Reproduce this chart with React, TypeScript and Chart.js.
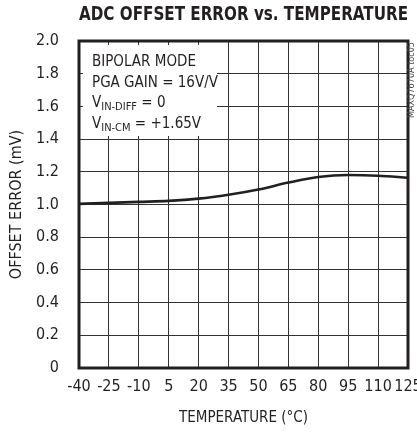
import React, { useEffect, useRef } from "react";
import { Chart, registerables } from "chart.js";

Chart.register(...registerables);

const temperatures = [-40, -25, -10, 5, 20, 35, 50, 65, 80, 95, 110, 125];
const offsetError = [1.004, 1.01, 1.016, 1.022, 1.036, 1.06, 1.092, 1.134, 1.168, 1.18, 1.176, 1.164];

const chartTitle = "ADC OFFSET ERROR vs. TEMPERATURE";
const xTitle = "TEMPERATURE (°C)";
const yTitle = "OFFSET ERROR (mV)";
const noteLines = [
  { main: "BIPOLAR MODE", sub: "", rest: "" },
  { main: "PGA GAIN = 16V/V", sub: "", rest: "" },
  { main: "V", sub: "IN-DIFF", rest: " = 0" },
  { main: "V", sub: "IN-CM", rest: " = +1.65V" },
];
const figureCode = "MAXQ7670A toc05";

const FONT = "'Liberation Sans Narrow', 'Arial Narrow', 'DejaVu Sans Condensed', sans-serif";
const INK = "#231f20";

const decorPlugin = {
  id: "decor",
  beforeDatasetsDraw(chart: any) {
    const { ctx } = chart;
    ctx.save();
    ctx.fillStyle = "#ffffff";
    ctx.fillRect(83, 45, 134, 91);
    ctx.fillStyle = INK;
    ctx.textBaseline = "alphabetic";
    ctx.textAlign = "left";
    const baselines = [66, 86.5, 107, 127.5];
    noteLines.forEach((ln, i) => {
      let x = 92;
      const y = baselines[i];
      ctx.font = `15px ${FONT}`;
      ctx.fillText(ln.main, x, y);
      x += ctx.measureText(ln.main).width;
      if (ln.sub) {
        ctx.font = `11px ${FONT}`;
        ctx.fillText(ln.sub, x, y + 3);
        x += ctx.measureText(ln.sub).width;
      }
      if (ln.rest) {
        ctx.font = `15px ${FONT}`;
        ctx.fillText(ln.rest, x, y);
      }
    });
    ctx.restore();
  },
  afterDatasetsDraw(chart: any) {
    const { ctx, chartArea } = chart;
    ctx.save();
    ctx.strokeStyle = INK;
    ctx.lineWidth = 3;
    ctx.strokeRect(chartArea.left, chartArea.top, chartArea.right - chartArea.left, chartArea.bottom - chartArea.top);
    ctx.restore();
  },
  afterDraw(chart: any) {
    const { ctx } = chart;
    ctx.save();
    ctx.translate(412, 80);
    ctx.rotate(-Math.PI / 2);
    ctx.font = `9px ${FONT}`;
    ctx.fillStyle = "#444";
    ctx.textAlign = "center";
    ctx.textBaseline = "middle";
    ctx.fillText(figureCode, 0, 0);
    ctx.restore();
  },
};

export default function App() {
  const ref = useRef<HTMLCanvasElement | null>(null);
  useEffect(() => {
    if (!ref.current) return;
    const chart = new Chart(ref.current, {
      type: "line",
      data: {
        datasets: [
          {
            data: temperatures.map((t, i) => ({ x: t, y: offsetError[i] })),
            borderColor: INK,
            borderWidth: 2.6,
            pointRadius: 0,
            cubicInterpolationMode: "monotone",
            fill: false,
          },
        ],
      },
      options: {
        animation: false,
        responsive: false,
        maintainAspectRatio: false,
        layout: { padding: { top: 0, right: 32, bottom: 0, left: 0 } },
        plugins: {
          legend: { display: false },
          tooltip: { enabled: false },
          title: {
            display: true,
            text: chartTitle,
            fullSize: false,
            align: "start",
            color: INK,
            font: { family: FONT, size: 19, weight: "bold", lineHeight: 1.2 },
            padding: { top: 3.3, bottom: 14.9 },
          },
        },
        scales: {
          x: {
            type: "linear",
            min: -40,
            max: 125,
            ticks: {
              stepSize: 15,
              autoSkip: false,
              maxRotation: 0,
              color: INK,
              padding: 9,
              font: { family: FONT, size: 16, lineHeight: 1.2 },
            },
            grid: { color: "#333", lineWidth: 1, drawTicks: false },
            border: { display: false },
            title: {
              display: true,
              text: xTitle,
              color: INK,
              font: { family: FONT, size: 15, lineHeight: 1.2 },
              padding: { top: 0, bottom: 5 },
            },
            afterFit: (s: any) => {
              s.height = 64;
            },
          },
          y: {
            type: "linear",
            min: 0,
            max: 2,
            ticks: {
              stepSize: 0.2,
              color: INK,
              padding: 20,
              font: { family: FONT, size: 16, lineHeight: 1.2 },
              callback: (v: any) => (Number(v) === 0 ? "0" : Number(v).toFixed(1)),
            },
            grid: { color: "#333", lineWidth: 1, drawTicks: false },
            border: { display: false },
            title: {
              display: true,
              text: yTitle,
              color: INK,
              font: { family: FONT, size: 16, lineHeight: 1.2 },
              padding: { top: 7, bottom: 0 },
            },
            afterFit: (s: any) => {
              s.width = 79;
            },
          },
        },
      },
      plugins: [decorPlugin],
    } as any);
    return () => chart.destroy();
  }, []);
  return (
    <div style={{ position: "fixed", left: 0, top: 0, width: 417, height: 432, overflow: "hidden", background: "#fff" }}>
      <canvas ref={ref} width={440} height={432} style={{ display: "block", width: 440, height: 432 }} />
    </div>
  );
}
